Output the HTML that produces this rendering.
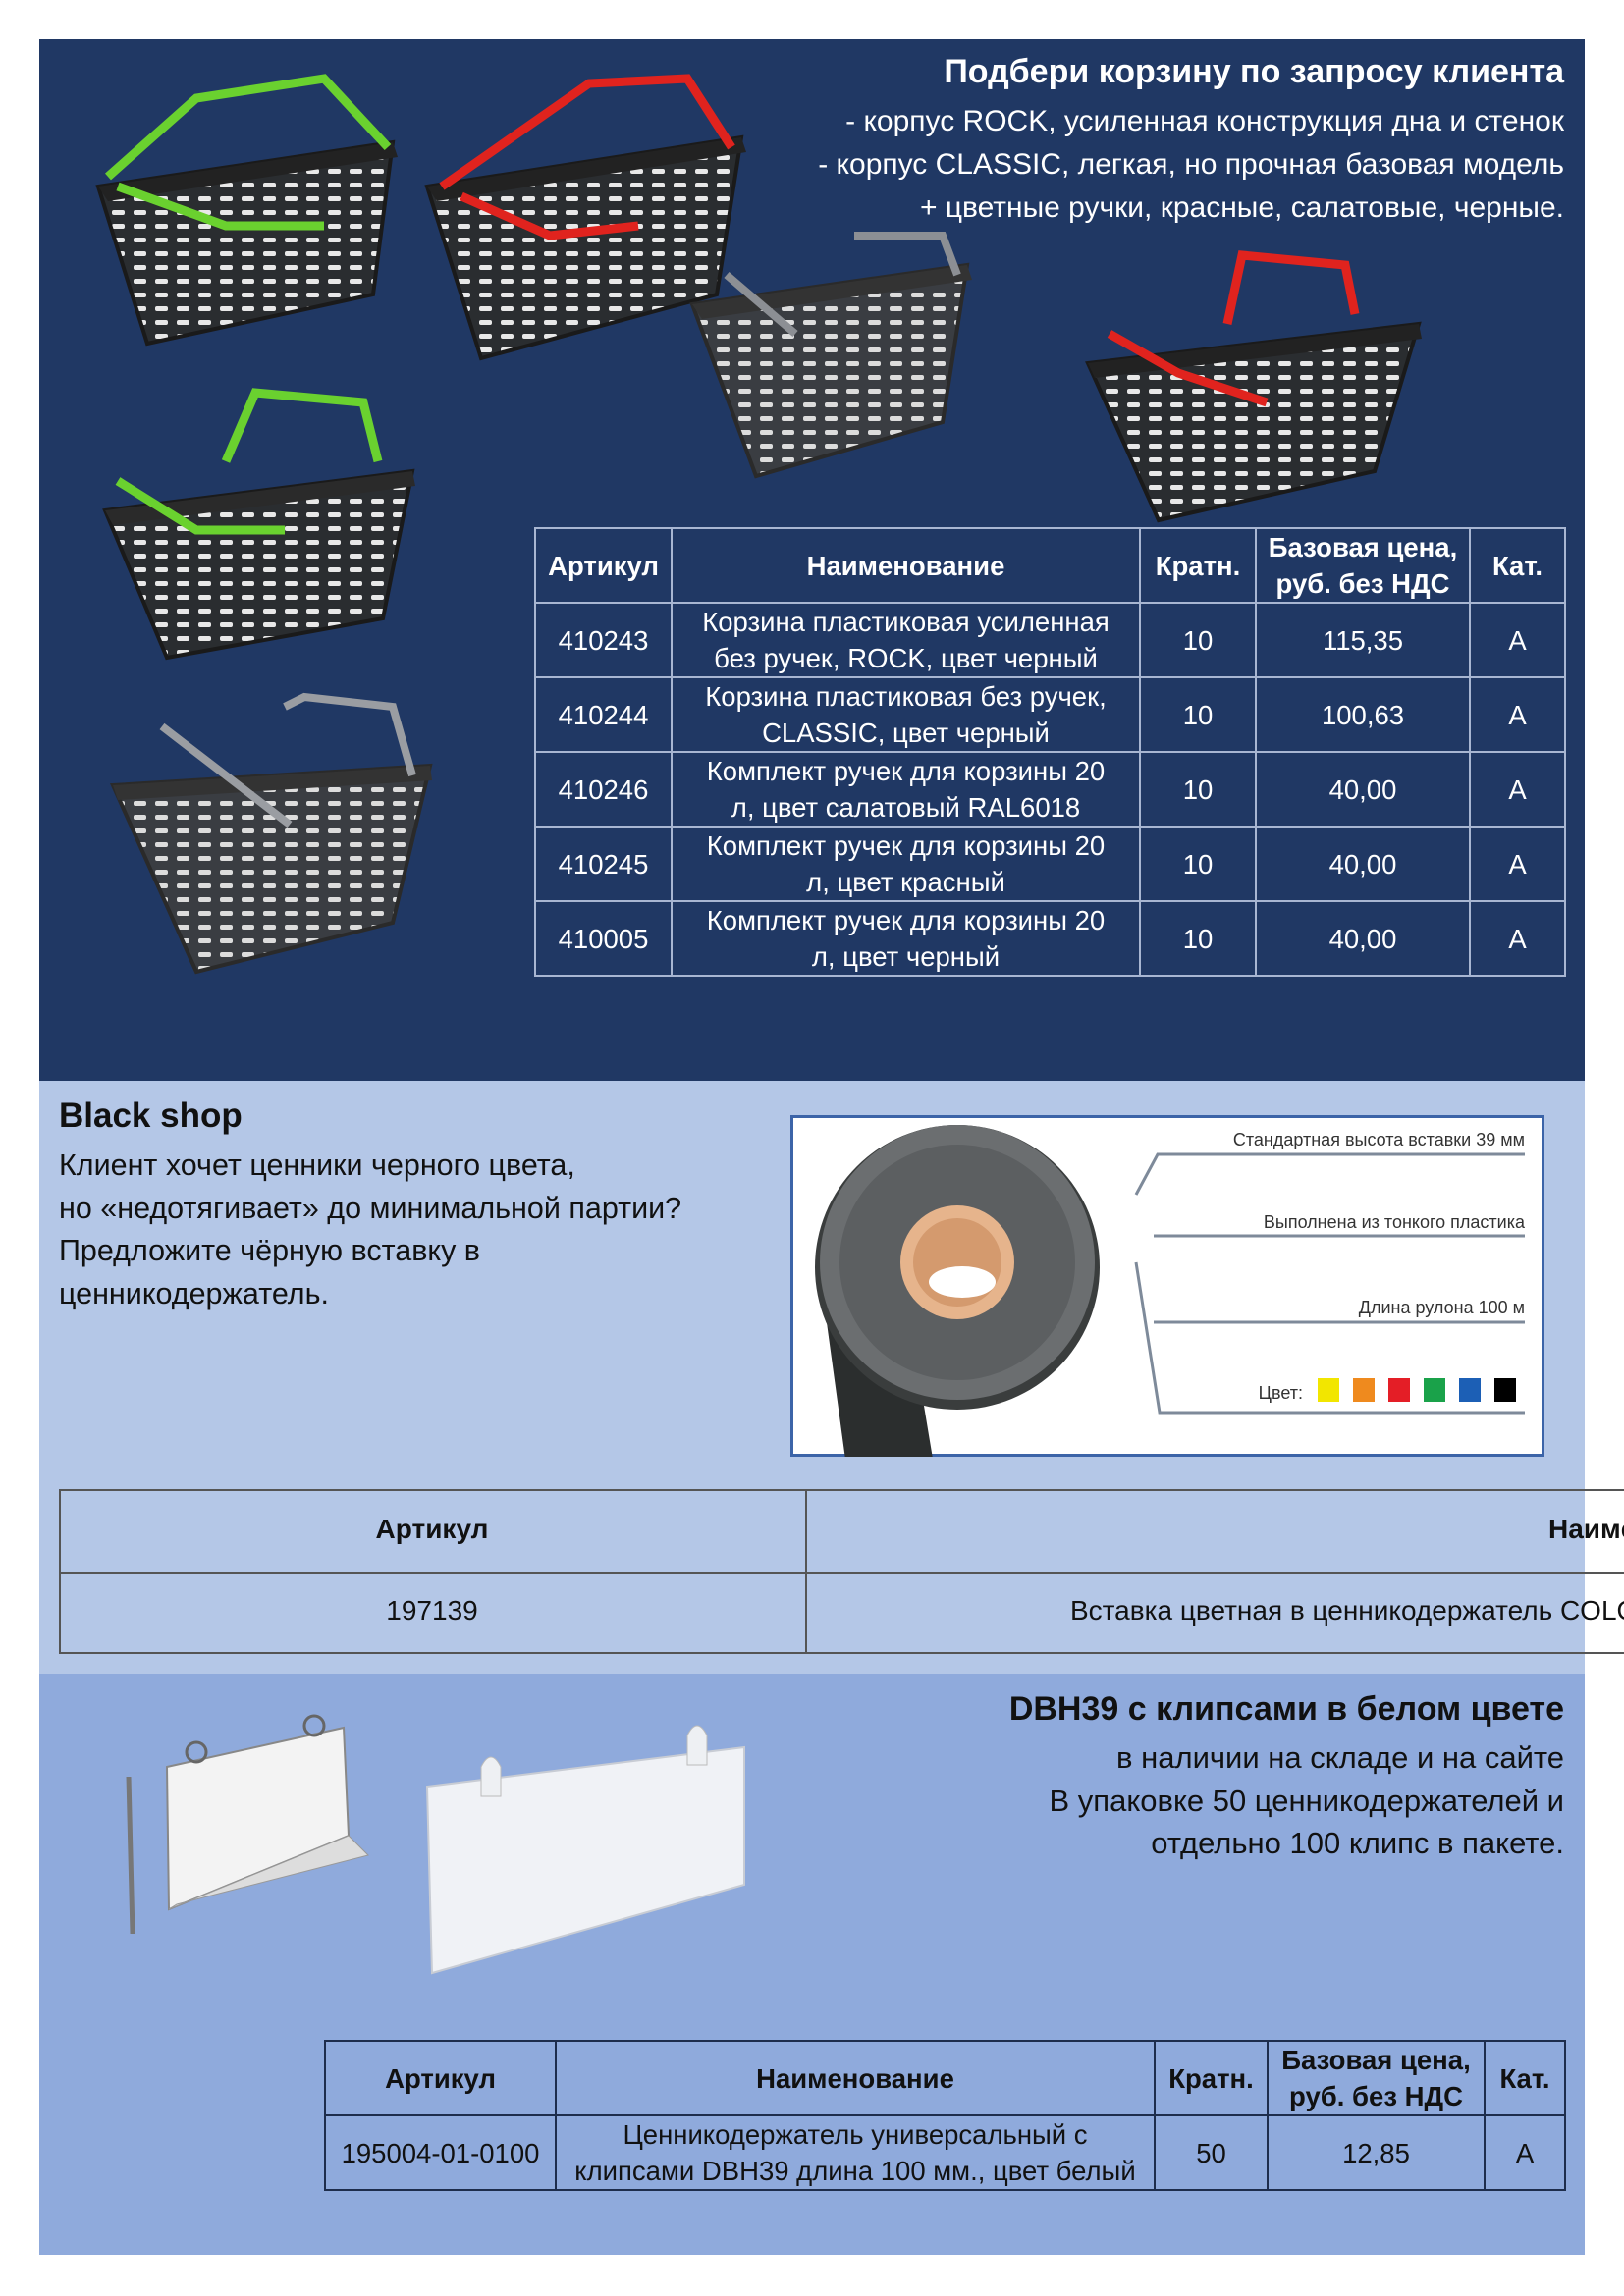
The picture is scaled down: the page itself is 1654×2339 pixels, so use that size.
<!DOCTYPE html>
<html><head><meta charset="utf-8">
<style>
*{margin:0;padding:0;box-sizing:border-box}
body{width:1654px;height:2339px;position:relative;overflow:hidden;background:#fff;font-family:"Liberation Sans","Noto Sans CJK SC",sans-serif}
.abs{position:absolute}
table{border-collapse:collapse;position:absolute;table-layout:fixed}
td{text-align:center;vertical-align:middle;line-height:37px;font-size:27.5px;padding:0;white-space:nowrap}
.t1 td{border:2px solid #a8b6d2;color:#fff}
.t3 td{border:2px solid #1e2d4c;color:#111}
.b{font-weight:bold}
.r{text-align:right}
</style></head><body>
<div class="abs" style="left:40px;top:40px;width:1574px;height:1061px;background:#203864"></div>
<div class="abs" style="left:40px;top:1101px;width:1574px;height:604px;background:#b4c7e7"></div>
<div class="abs" style="left:40px;top:1705px;width:1574px;height:592px;background:#8faadc"></div>

<div class="abs r" style="right:61px;top:54px;color:#fff;font-size:34px;font-weight:bold;white-space:nowrap">Подбери корзину по запросу клиента</div>
<div class="abs r" style="right:61px;top:102px;color:#fff;font-size:30px;line-height:44px;white-space:nowrap">- корпус ROCK, усиленная конструкция дна и стенок<br>- корпус CLASSIC, легкая, но прочная базовая модель<br>+ цветные ручки, красные, салатовые, черные.</div>

<svg class="abs" style="left:0;top:0" width="1654" height="1100">
<defs>
<pattern id="holes" width="22" height="14" patternUnits="userSpaceOnUse"><rect width="22" height="14" fill="#2a2d30"/><rect x="4" y="4" width="13" height="5" rx="2" fill="#e8e8e8"/></pattern>
<pattern id="holes2" width="22" height="14" patternUnits="userSpaceOnUse"><rect width="22" height="14" fill="#3a3d42"/><rect x="4" y="4" width="13" height="5" rx="2" fill="#dcdcdc"/></pattern>
</defs>
<g><polygon points="100,190 400,145 380,300 150,350" fill="url(#holes)" stroke="#1a1a1a" stroke-width="4"/><polygon points="100,190 400,145 405,160 110,205" fill="#222"/>
<path d="M110,180 L200,100 L330,80 L395,150 M120,190 L230,230 L330,230" stroke="#6ad12f" stroke-width="9" fill="none"/></g>
<g><polygon points="435,190 755,140 730,300 490,365" fill="url(#holes)" stroke="#1a1a1a" stroke-width="4"/><polygon points="435,190 755,140 760,155 445,205" fill="#222"/>
<path d="M450,190 L600,85 L700,80 L745,150 M470,200 L560,240 L650,230" stroke="#e0231e" stroke-width="9" fill="none"/></g>
<g><polygon points="705,310 985,270 960,430 770,485" fill="url(#holes2)" stroke="#2a2a2a" stroke-width="4"/><polygon points="705,310 985,270 990,285 715,325" fill="#333"/>
<path d="M740,280 L810,340 M870,240 L960,240 L975,280" stroke="#8c8f94" stroke-width="8" fill="none"/></g>
<g><polygon points="1108,370 1445,330 1400,480 1180,530" fill="url(#holes)" stroke="#1a1a1a" stroke-width="4"/><polygon points="1108,370 1445,330 1448,345 1115,385" fill="#222"/>
<path d="M1250,330 L1265,260 L1370,270 L1380,320 M1130,340 L1200,380 L1290,410" stroke="#e0231e" stroke-width="9" fill="none"/></g>
<g><polygon points="107,520 420,480 390,630 170,670" fill="url(#holes)" stroke="#1a1a1a" stroke-width="4"/><polygon points="107,520 420,480 423,495 115,535" fill="#2a2a2a"/>
<path d="M230,470 L260,400 L370,410 L385,470 M120,490 L200,540 L290,540" stroke="#6ad12f" stroke-width="9" fill="none"/></g>
<g><polygon points="115,800 438,780 400,940 200,990" fill="url(#holes2)" stroke="#2a2a2a" stroke-width="4"/><polygon points="115,800 438,780 440,795 120,815" fill="#333"/>
<path d="M165,740 L295,840 M290,720 L310,710 L400,720 L420,790" stroke="#9a9da2" stroke-width="8" fill="none"/></g>
</svg>

<table class="t1" style="left:544px;top:537px;width:1049px">
<colgroup><col style="width:139px"><col style="width:477px"><col style="width:118px"><col style="width:218px"><col style="width:97px"></colgroup>
<tr style="height:76px"><td class="b">Артикул</td><td class="b">Наименование</td><td class="b">Кратн.</td><td class="b">Базовая цена,<br>руб. без НДС</td><td class="b">Кат.</td></tr>
<tr style="height:75px"><td>410243</td><td>Корзина пластиковая усиленная<br>без ручек, ROCK, цвет черный</td><td>10</td><td>115,35</td><td>A</td></tr>
<tr style="height:76px"><td>410244</td><td>Корзина пластиковая без ручек,<br>CLASSIC, цвет черный</td><td>10</td><td>100,63</td><td>A</td></tr>
<tr style="height:74px"><td>410246</td><td>Комплект ручек для корзины 20<br>л, цвет салатовый RAL6018</td><td>10</td><td>40,00</td><td>A</td></tr>
<tr style="height:75px"><td>410245</td><td>Комплект ручек для корзины 20<br>л, цвет красный</td><td>10</td><td>40,00</td><td>A</td></tr>
<tr style="height:76px"><td>410005</td><td>Комплект ручек для корзины 20<br>л, цвет черный</td><td>10</td><td>40,00</td><td>A</td></tr>
</table>

<div class="abs b" style="left:60px;top:1117px;font-size:35px;color:#111">Black shop</div>
<div class="abs" style="left:60px;top:1166px;font-size:30.5px;line-height:43.5px;color:#111;white-space:nowrap">Клиент хочет ценники черного цвета,<br>но «недотягивает» до минимальной партии?<br>Предложите чёрную вставку в<br>ценникодержатель.</div>

<div class="abs" style="left:805px;top:1136px;width:768px;height:348px;background:#fff;border:3px solid #3c64a8"></div>
<svg class="abs" style="left:805px;top:1136px" width="768" height="348">
<path d="M30,160 L60,380 L150,380 L120,200 Z" fill="#2b2e2e"/>
<circle cx="170" cy="155" r="145" fill="#3a3d3d"/>
<circle cx="170" cy="150" r="140" fill="#6b6e70"/>
<circle cx="170" cy="150" r="120" fill="#5c5f61"/>
<circle cx="170" cy="150" r="58" fill="#e6b48c"/>
<circle cx="170" cy="150" r="45" fill="#d49a6e"/>
<ellipse cx="175" cy="170" rx="34" ry="16" fill="#fff"/>
<g stroke="#7e8a9a" stroke-width="3" fill="none">
<polyline points="352,81 374,40 748,40"/>
<line x1="370" y1="123" x2="748" y2="123"/>
<line x1="370" y1="211" x2="748" y2="211"/>
<polyline points="352,150 376,303 748,303"/>
</g>
<g font-size="18" fill="#333" text-anchor="end" font-family="Liberation Sans, sans-serif">
<text x="748" y="31">Стандартная высота вставки 39 мм</text>
<text x="748" y="115">Выполнена из тонкого пластика</text>
<text x="748" y="202">Длина рулона 100 м</text>
<text x="522" y="289">Цвет:</text>
</g>
<rect x="537" y="268" width="22" height="24" fill="#f2e600"/>
<rect x="573" y="268" width="22" height="24" fill="#ef8a1e"/>
<rect x="609" y="268" width="22" height="24" fill="#e41e26"/>
<rect x="645" y="268" width="22" height="24" fill="#1aa24a"/>
<rect x="681" y="268" width="22" height="24" fill="#1c5fb5"/>
<rect x="717" y="268" width="22" height="24" fill="#000"/>
</svg>

<div class="abs" style="left:0;top:1500px;width:1654px;height:200px;overflow:hidden">
<div class="abs" style="left:60px;top:17px;width:1594px;height:168px;border:2px solid #555;border-right:none"></div>
<div class="abs" style="left:60px;top:101px;width:1594px;height:2px;background:#555"></div>
<div class="abs" style="left:820px;top:17px;width:2px;height:168px;background:#555"></div>
<div class="abs b" style="left:60px;width:760px;top:42px;text-align:center;font-size:28px;color:#111">Артикул</div>
<div class="abs b" style="left:1577px;top:42px;font-size:28px;color:#111;white-space:nowrap">Наименование</div>
<div class="abs" style="left:60px;width:760px;top:125px;text-align:center;font-size:28px;color:#111">197139</div>
<div class="abs" style="left:1090px;top:125px;font-size:28px;color:#111;white-space:nowrap">Вставка цветная в ценникодержатель COLOR</div>
</div>

<div class="abs r" style="right:61px;top:1722px;color:#111;font-size:34px;font-weight:bold;white-space:nowrap">DBH39 с клипсами в белом цвете</div>
<div class="abs r" style="right:61px;top:1769px;color:#111;font-size:31px;line-height:43.5px;white-space:nowrap">в наличии на складе и на сайте<br>В упаковке 50 ценникодержателей и<br>отдельно 100 клипс в пакете.</div>

<svg class="abs" style="left:0;top:1740px" width="800" height="280">
<line x1="131" y1="70" x2="135" y2="230" stroke="#777" stroke-width="5"/>
<polygon points="170,60 350,20 355,130 172,205" fill="#f3f3f3" stroke="#888" stroke-width="2"/>
<polygon points="172,205 355,130 375,150 180,200" fill="#ddd" stroke="#999" stroke-width="1"/>
<circle cx="200" cy="45" r="10" fill="none" stroke="#666" stroke-width="3"/>
<circle cx="320" cy="18" r="10" fill="none" stroke="#666" stroke-width="3"/>
<polygon points="435,80 758,40 758,180 440,270" fill="#f0f2f6" stroke="#c8ccd4" stroke-width="2"/>
<path d="M490,60 q10,-20 20,0 v30 h-20 z M700,28 q10,-20 20,0 v30 h-20 z" fill="#eef0f3" stroke="#bbb"/>
</svg>

<table class="t3" style="left:330px;top:2078px;width:1263px">
<colgroup><col style="width:235px"><col style="width:610px"><col style="width:115px"><col style="width:221px"><col style="width:82px"></colgroup>
<tr style="height:76px"><td class="b">Артикул</td><td class="b">Наименование</td><td class="b">Кратн.</td><td class="b">Базовая цена,<br>руб. без НДС</td><td class="b">Кат.</td></tr>
<tr style="height:76px"><td>195004-01-0100</td><td>Ценникодержатель универсальный с<br>клипсами DBH39 длина 100 мм., цвет белый</td><td>50</td><td>12,85</td><td>A</td></tr>
</table>
</body></html>
